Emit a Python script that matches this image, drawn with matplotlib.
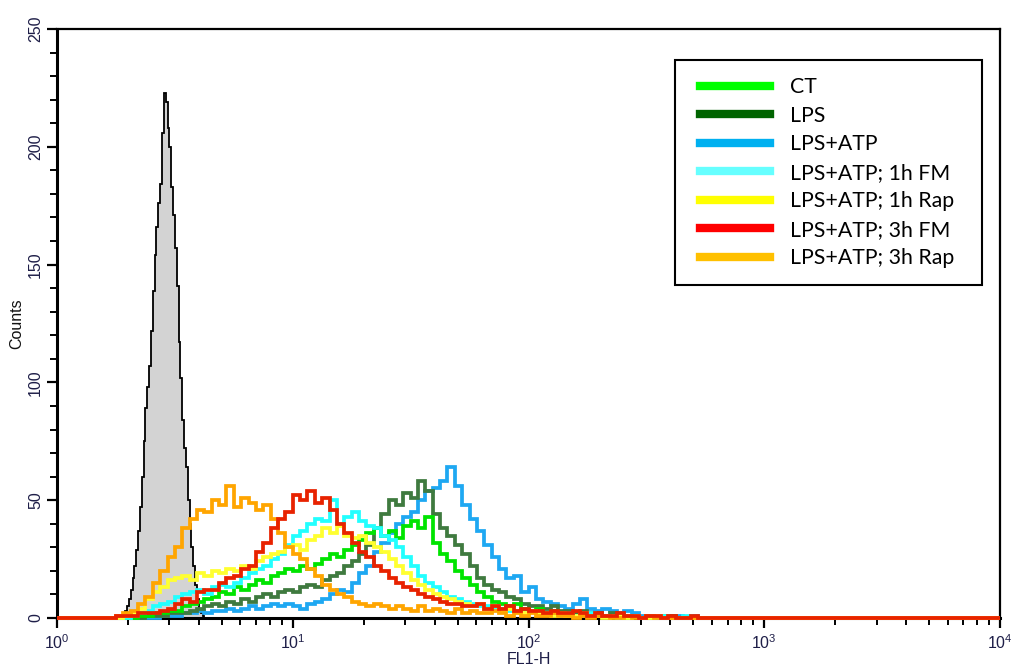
import numpy as np
import matplotlib
matplotlib.use('Agg')
import matplotlib.pyplot as plt
import matplotlib.transforms as mtransforms
from matplotlib.lines import Line2D
from matplotlib.legend_handler import HandlerLine2D
from matplotlib.ticker import LogLocator, MultipleLocator, NullFormatter

plt.rcParams['font.family'] = ['Liberation Sans', 'DejaVu Sans']
plt.rcParams['mathtext.default'] = 'regular'

# FL1-H histograms, counts per 1/32 decade channel from 10^0.25 to 10^2.75
ct = [0, 0, 0, 1, 1, 2, 2, 3, 3, 5, 6, 7, 8, 9, 11, 10, 13, 12, 14, 16,
      15, 18, 19, 21, 20, 22, 21, 23, 25, 27, 26, 29, 31, 33, 36, 38, 35, 37, 34, 39,
      41, 38, 43, 32, 27, 24, 20, 17, 14, 11, 9, 7, 6, 5, 6, 4, 3, 4, 2, 3,
      2, 2, 1, 2, 1, 1, 1, 0, 1, 0, 1, 0, 0, 0, 1, 0, 0, 0, 0, 0]
lps = [0, 0, 0, 0, 1, 1, 1, 2, 2, 2, 3, 4, 5, 6, 5, 7, 6, 8, 7, 9,
       10, 9, 11, 12, 11, 13, 14, 13, 16, 18, 19, 22, 24, 27, 31, 38, 44, 50, 48, 53,
       51, 58, 54, 44, 38, 35, 31, 27, 22, 17, 14, 12, 11, 9, 8, 6, 5, 5, 4, 5,
       3, 3, 2, 3, 2, 2, 1, 2, 1, 1, 1, 0, 1, 0, 0, 1, 0, 0, 0, 0]
lps_atp = [0, 0, 0, 0, 0, 0, 1, 1, 1, 2, 2, 3, 2, 3, 3, 4, 3, 4, 5, 4,
           5, 6, 5, 6, 5, 4, 6, 7, 8, 10, 12, 11, 15, 19, 22, 28, 32, 36, 40, 43,
           45, 50, 54, 55, 58, 64, 56, 48, 42, 37, 31, 26, 21, 17, 18, 11, 13, 8, 7, 6,
           5, 4, 6, 8, 4, 3, 4, 3, 2, 3, 2, 1, 1, 1, 0, 1, 1, 0, 1, 0]
fm_1h = [0, 0, 1, 2, 3, 5, 6, 7, 9, 10, 11, 12, 10, 13, 14, 13, 15, 17, 19, 21,
         22, 25, 27, 31, 35, 37, 40, 42, 41, 50, 40, 43, 45, 41, 39, 38, 35, 33, 30, 26,
         22, 18, 15, 13, 11, 9, 8, 7, 6, 5, 5, 4, 4, 3, 3, 2, 3, 2, 2, 2,
         1, 2, 1, 1, 2, 1, 1, 1, 0, 1, 1, 0, 1, 0, 1, 0, 0, 1, 0, 0]
rap_1h = [0, 1, 2, 4, 8, 11, 13, 16, 17, 18, 16, 19, 18, 20, 19, 21, 20, 22, 21, 24,
          26, 27, 28, 30, 31, 29, 33, 35, 38, 36, 39, 35, 34, 35, 32, 30, 28, 25, 22, 19,
          16, 14, 12, 10, 9, 8, 7, 6, 5, 6, 4, 5, 3, 4, 3, 2, 3, 2, 2, 1,
          2, 1, 1, 2, 1, 1, 0, 1, 1, 0, 1, 0, 0, 1, 0, 0, 0, 0, 0, 0]
fm_3h = [1, 1, 1, 2, 2, 2, 3, 4, 6, 8, 7, 11, 12, 12, 15, 17, 18, 21, 22, 28,
         32, 38, 42, 45, 52, 50, 54, 49, 51, 46, 40, 36, 32, 28, 26, 22, 20, 17, 15, 13,
         12, 10, 9, 8, 7, 6, 6, 5, 5, 6, 4, 5, 4, 5, 3, 4, 3, 3, 2, 3,
         2, 2, 3, 2, 1, 2, 1, 1, 2, 1, 1, 0, 1, 1, 0, 1, 0, 0, 1, 0]
rap_3h = [1, 2, 3, 6, 9, 15, 20, 26, 30, 38, 42, 46, 45, 50, 48, 56, 47, 51, 49, 46,
          48, 42, 36, 30, 27, 25, 21, 18, 14, 12, 10, 9, 7, 6, 5, 6, 5, 4, 5, 4,
          3, 5, 3, 4, 3, 2, 4, 2, 3, 2, 2, 3, 2, 1, 2, 1, 2, 1, 1, 2,
          1, 1, 0, 1, 0, 1, 1, 0, 0, 1, 0, 0, 1, 0, 0, 0, 0, 0, 0, 0]

# unstained control, 1/128 decade channels starting at 10^(34/128)
unstained = [0, 1, 2, 3, 5, 8, 12, 17, 22, 29, 37, 47, 60, 75, 89, 98, 107, 122, 139, 154,
             166, 176, 184, 206, 223, 219, 208, 200, 183, 171, 157, 141, 117, 102, 84, 72, 64, 50, 40, 30,
             22, 14, 8, 4, 2, 1]

labels = ['CT', 'LPS', 'LPS+ATP', 'LPS+ATP; 1h FM', 'LPS+ATP; 1h Rap',
          'LPS+ATP; 3h FM', 'LPS+ATP; 3h Rap']
series = [ct, lps, lps_atp, fm_1h, rap_1h, fm_3h, rap_3h]
line_colors = ['#00e400', '#3f7a3f', '#1ea8f2', '#22ffff', '#ffff30', '#e82200', '#ffa500']
legend_colors = ['#00ff00', '#006400', '#00b0f0', '#66ffff', '#ffff00', '#ff0000', '#ffc000']
draw_order = [2, 1, 0, 3, 4, 6, 5]

# full channel grid 10^0 .. 10^4
n_full = 128
offset = 8
edges = 10 ** (np.arange(n_full + 1) / 32)
g_edges = 10 ** (np.arange(34, 34 + len(unstained) + 1) / 128)

fig = plt.figure(figsize=(10.11, 6.68), dpi=100)
ax = fig.add_axes([57 / 1011, 50 / 668, 943 / 1011, 589 / 668])

ax.stairs(unstained, g_edges, fill=True, color='#d3d3d3', zorder=1)
ax.stairs(unstained, g_edges, color='black', lw=1.3, zorder=2)
ax.plot([1, 1e4], [0, 0], color='black', lw=1.3, zorder=2)

for i in draw_order:
    vals = np.zeros(n_full)
    vals[offset:offset + len(series[i])] = series[i]
    ax.stairs(vals, edges, color=line_colors[i], lw=2.7, zorder=3, clip_on=False)

ax.set_xscale('log')
ax.set_xlim(1, 1e4)
ax.set_ylim(0, 250)

ax.xaxis.set_major_locator(LogLocator(base=10, numticks=10))
ax.xaxis.set_minor_locator(LogLocator(base=10, subs=np.arange(2, 10), numticks=50))
ax.xaxis.set_minor_formatter(NullFormatter())
ax.yaxis.set_major_locator(MultipleLocator(50))
ax.yaxis.set_minor_locator(MultipleLocator(10))

tick_col = '#1e1e48'
ax.tick_params(axis='both', which='major', direction='out', length=7, width=1.6,
               labelsize=11.5, labelcolor=tick_col)
ax.tick_params(axis='both', which='minor', direction='out', length=5, width=1.4)
ax.tick_params(axis='y', which='major', pad=3)
ax.tick_params(axis='x', which='major', pad=4)
for t in ax.get_yticklabels():
    t.set_rotation(90)
    t.set_va('center')

# keep the 10^4 label inside the canvas
fig.canvas.draw()
last = ax.get_xticklabels()[-1]
last.set_transform(last.get_transform() +
                   mtransforms.ScaledTranslation(-4 / 100, 0, fig.dpi_scale_trans))

for side in ['left', 'bottom']:
    ax.spines[side].set_linewidth(2.2)
for side in ['top', 'right']:
    ax.spines[side].set_linewidth(1.6)

ax.set_xlabel('FL1-H', fontsize=11.5, labelpad=0, color=tick_col)
ax.set_ylabel('Counts', fontsize=11.5, labelpad=3, color='#111111')

handles = [Line2D([], [], color=c, lw=6) for c in legend_colors]
leg = ax.legend(handles, labels, loc='upper left',
                bbox_to_anchor=(0.655, 0.564, 0.326, 0.383), mode='expand',
                borderaxespad=0, fancybox=False, edgecolor='black', framealpha=1,
                prop={'family': ['Lato', 'DejaVu Sans'], 'size': 15.3},
                handler_map={Line2D: HandlerLine2D(xpad=0.38)},
                handlelength=3.68, handletextpad=0.95, labelspacing=0.4, borderpad=0.8)
leg.get_frame().set_linewidth(1.5)
leg.set_zorder(5)

plt.savefig('out.png', dpi=100)
